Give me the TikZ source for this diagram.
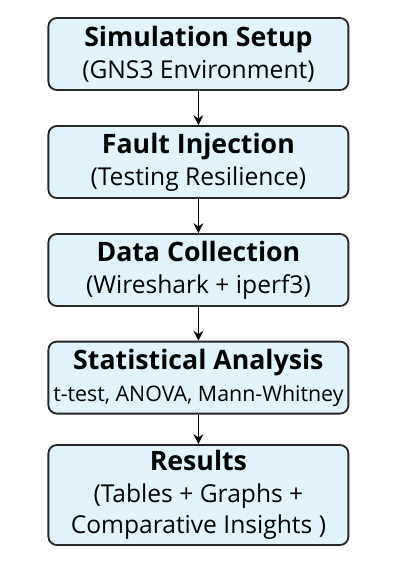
\documentclass[tikz,border=0pt]{standalone}
\usepackage{fontspec}
\setmainfont{Open Sans}
\usetikzlibrary{arrows.meta}
\definecolor{stepblue}{RGB}{226,244,251}
\tikzset{
  stepbox/.style={draw=black!85, fill=stepblue, line width=1.3pt, rounded corners=6pt,
    minimum width=7.5cm, minimum height=1.8cm, align=center, inner sep=0pt,
    font=\fontsize{17.5}{22}\selectfont},
  flow/.style={-{Stealth[length=7pt,width=7pt]}, line width=1.1pt, draw=black},
}
\newcommand{\boxtitle}[1]{{\fontsize{19}{22}\selectfont\bfseries #1}\\[1pt]}

\begin{document}
\begin{tikzpicture}
\useasboundingbox (0,0) rectangle (10.025,-14.2);
\node[stepbox] (setup) at (4.96,-1.35) {\boxtitle{Simulation Setup}(GNS3 Environment)};
\node[stepbox] (fault) at (4.96,-4.05) {\boxtitle{Fault Injection}(Testing Resilience)};
\node[stepbox] (collect) at (4.96,-6.75) {\boxtitle{Data Collection}(Wireshark + iperf3)};
\node[stepbox, font=\fontsize{15.2}{22}\selectfont] (stats) at (4.96,-9.44) {\boxtitle{Statistical Analysis}t-test, ANOVA, Mann-Whitney};
\node[stepbox, minimum height=2.5cm] (results) at (4.96,-12.375) {\boxtitle{Results}(Tables + Graphs +\\Comparative Insights )};
\draw[flow] (setup) -- (fault);
\draw[flow] (fault) -- (collect);
\draw[flow] (collect) -- (stats);
\draw[flow] (stats) -- (results);
\end{tikzpicture}
\end{document}
